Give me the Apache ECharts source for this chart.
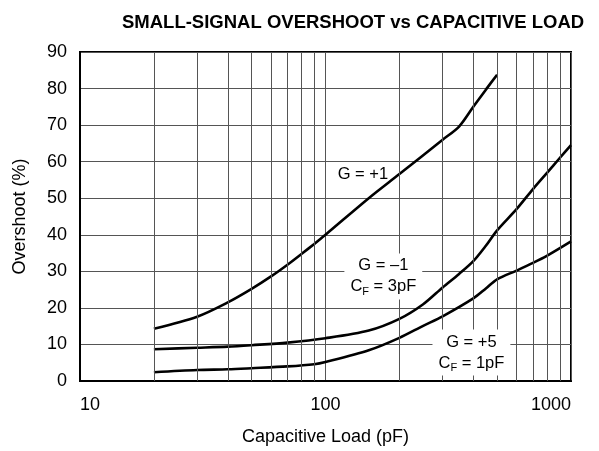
<!DOCTYPE html>
<html>
<head>
<meta charset="utf-8">
<script src="https://cdn.jsdelivr.net/npm/echarts@6/dist/echarts.min.js"></script>
<style>
    html, body { margin: 0; padding: 0; background: #fff; }
    #chart { width: 599px; height: 451px; }
</style>
</head>
<body>
<div id="chart"></div>
<script>
    // G = +1
    var capG1 = [20, 30, 40, 50, 60, 70, 80, 90, 100, 150, 200, 300, 350, 400, 450, 500];
    var ovG1 = [14.3, 17.6, 21.5, 25.2, 28.6, 31.8, 34.8, 37.5, 40, 50, 56.6, 66, 69.6, 75, 79.7, 83.8];
    // G = -1, CF = 3pF
    var capGm1 = [20, 30, 40, 50, 70, 100, 150, 200, 250, 300, 350, 400, 450, 500, 600, 700, 800, 900, 1000];
    var ovGm1 = [8.7, 9.1, 9.4, 9.8, 10.5, 11.7, 13.8, 17, 21, 25.6, 29.3, 32.8, 37, 41.2, 47, 52.5, 57, 61, 64.5];
    // G = +5, CF = 1pF
    var capG5 = [20, 30, 40, 50, 70, 90, 100, 150, 200, 250, 300, 400, 450, 500, 600, 700, 800, 1000];
    var ovG5 = [2.4, 3.0, 3.2, 3.5, 4.0, 4.6, 5.2, 8.4, 11.8, 15.1, 17.7, 22.6, 25.3, 27.8, 30.2, 32.3, 34.3, 38.2];

    // vertical grid lines between decades
    var minorCaps = [20, 30, 40, 50, 60, 70, 80, 90, 200, 300, 400, 500, 600, 700, 800, 900];
    var yTicks = [0, 10, 20, 30, 40, 50, 60, 70, 80, 90];

    function pairs(xs, ys) {
        return xs.map(function (x, i) { return [x, ys[i]]; });
    }

    var font = 'Liberation Sans, Arial, sans-serif';
    var gridColor = '#555';

    var curveStyle = {color: '#000', width: 2.6};

    function labelPoint(coord, text, bg) {
        return {
            coord: coord,
            symbol: 'rect',
            symbolSize: 1,
            itemStyle: {color: 'transparent'},
            label: {
                show: true,
                position: 'inside',
                formatter: text,
                color: '#000',
                fontFamily: font,
                fontSize: 16.5,
                lineHeight: 21,
                align: 'center',
                backgroundColor: bg ? '#fff' : 'transparent',
                padding: bg ? [2, 6, 2, 6] : 0,
                rich: {
                    n: {fontFamily: font, fontSize: 16.5, lineHeight: 21, color: '#000'},
                    s: {fontFamily: font, fontSize: 11, lineHeight: 6, verticalAlign: 'bottom', color: '#000'}
                }
            }
        };
    }

    var myChart = echarts.init(document.getElementById('chart'), null, {renderer: 'canvas'});

    var option = {
        backgroundColor: '#fff',
        animation: false,
        title: {
            text: 'SMALL-SIGNAL OVERSHOOT vs CAPACITIVE LOAD',
            left: 117,
            top: 8,
            textStyle: {fontFamily: font, fontSize: 18.5, fontWeight: 'bold', color: '#000'}
        },
        grid: {
            left: 80,
            right: 28,
            top: 52,
            bottom: 68,
            show: true,
            borderColor: '#000',
            borderWidth: 2,
            backgroundColor: 'transparent'
        },
        xAxis: {
            type: 'log',
            logBase: 10,
            min: 10,
            max: 1000,
            name: 'Capacitive Load (pF)',
            nameLocation: 'middle',
            nameGap: 47,
            nameTextStyle: {fontFamily: font, fontSize: 18, color: '#000'},
            axisLine: {show: true, lineStyle: {color: '#000', width: 2}},
            axisTick: {show: false},
            axisLabel: {
                fontFamily: font, fontSize: 18, color: '#000', margin: 15,
                alignMinLabel: 'left', alignMaxLabel: 'right',
                formatter: function (v) { return String(Math.round(v)); }
            },
            splitLine: {show: true, lineStyle: {color: gridColor, width: 1}}
        },
        yAxis: {
            type: 'value',
            min: yTicks[0],
            max: yTicks[yTicks.length - 1],
            interval: 10,
            name: 'Overshoot (%)',
            nameLocation: 'middle',
            nameGap: 51,
            nameTextStyle: {fontFamily: font, fontSize: 18, color: '#000'},
            axisLine: {show: true, lineStyle: {color: '#000', width: 2}},
            axisTick: {show: false},
            axisLabel: {fontFamily: font, fontSize: 18, color: '#000', margin: 13},
            splitLine: {show: true, lineStyle: {color: gridColor, width: 1}}
        },
        series: [
            {
                name: 'grid',
                type: 'line',
                data: [],
                z: 1,
                silent: true,
                markLine: {
                    silent: true,
                    symbol: ['none', 'none'],
                    label: {show: false},
                    emphasis: {disabled: true},
                    lineStyle: {color: gridColor, width: 1, type: 'solid'},
                    data: minorCaps.map(function (c) { return {xAxis: c}; })
                }
            },
            {
                name: 'G = +1',
                type: 'line',
                data: pairs(capG1, ovG1),
                smooth: 0.3,
                showSymbol: false,
                lineStyle: curveStyle,
                z: 3,
                markPoint: {
                    silent: true,
                    data: [labelPoint([142, 56.5], 'G = +1', false)]
                }
            },
            {
                name: 'G = -1',
                type: 'line',
                data: pairs(capGm1, ovGm1),
                smooth: 0.3,
                showSymbol: false,
                lineStyle: curveStyle,
                z: 3,
                markPoint: {
                    silent: true,
                    data: [labelPoint([172, 28.6], '{n|G = \u20131}\n{n|C}{s|F}{n| = 3pF}', true)]
                }
            },
            {
                name: 'G = +5',
                type: 'line',
                data: pairs(capG5, ovG5),
                smooth: 0.3,
                showSymbol: false,
                lineStyle: curveStyle,
                z: 3,
                markPoint: {
                    silent: true,
                    data: [labelPoint([393, 7.8], '{n|G = +5}\n{n|C}{s|F}{n| = 1pF}', true)]
                }
            }
        ]
    };

    myChart.setOption(option);
</script>
</body>
</html>
